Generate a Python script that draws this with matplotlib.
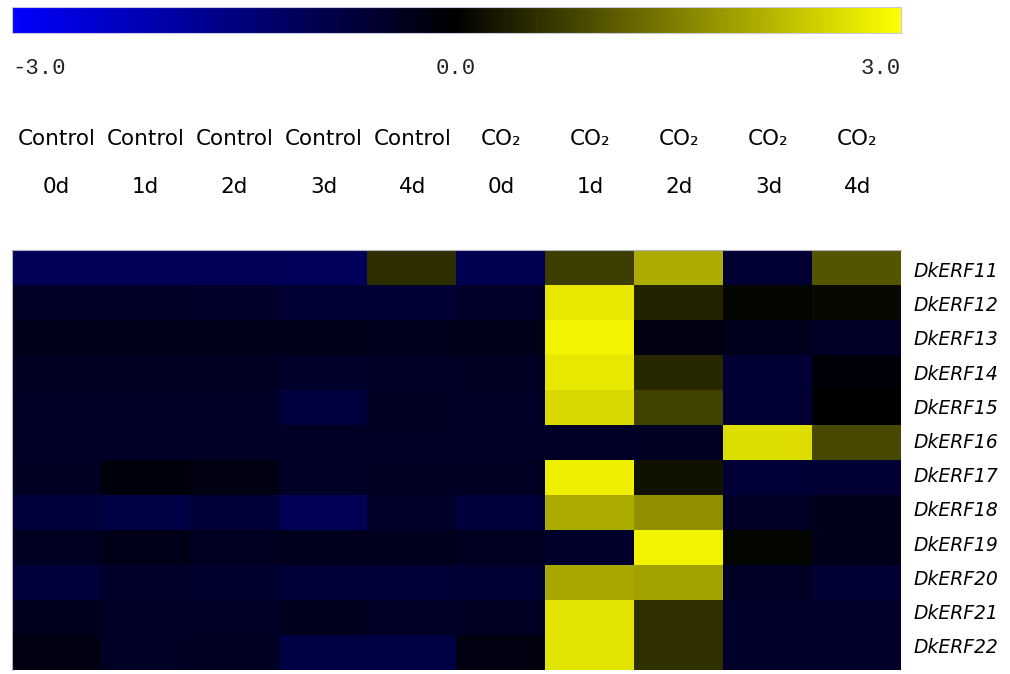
import numpy as np
import matplotlib.pyplot as plt
from matplotlib.colors import LinearSegmentedColormap

# column headers and gene names
treatments = ["Control"] * 5 + ["CO\u2082"] * 5
days = ["0d", "1d", "2d", "3d", "4d", "0d", "1d", "2d", "3d", "4d"]
genes = ["DkERF11", "DkERF12", "DkERF13", "DkERF14", "DkERF15", "DkERF16",
         "DkERF17", "DkERF18", "DkERF19", "DkERF20", "DkERF21", "DkERF22"]

# expression values (log scale, -3..3), one list per gene
erf11 = [-1.0, -1.0, -1.0, -1.05, 0.53, -0.95, 0.72, 2.0, -0.6, 1.0]
erf12 = [-0.45, -0.45, -0.5, -0.6, -0.6, -0.5, 2.7, 0.4, 0.05, 0.1]
erf13 = [-0.3, -0.3, -0.3, -0.3, -0.35, -0.3, 2.85, -0.2, -0.35, -0.45]
erf14 = [-0.4, -0.4, -0.4, -0.5, -0.45, -0.4, 2.7, 0.45, -0.6, -0.1]
erf15 = [-0.45, -0.45, -0.45, -0.75, -0.4, -0.45, 2.55, 0.75, -0.6, 0.0]
erf16 = [-0.45, -0.45, -0.45, -0.45, -0.45, -0.45, -0.45, -0.4, 2.6, 0.85]
erf17 = [-0.4, -0.15, -0.2, -0.45, -0.4, -0.4, 2.8, 0.2, -0.65, -0.6]
erf18 = [-0.7, -0.8, -0.65, -1.0, -0.5, -0.7, 2.0, 1.7, -0.45, -0.3]
erf19 = [-0.4, -0.3, -0.4, -0.35, -0.35, -0.4, -0.5, 2.85, 0.05, -0.3]
erf20 = [-0.7, -0.5, -0.55, -0.65, -0.65, -0.6, 1.95, 1.9, -0.45, -0.6]
erf21 = [-0.35, -0.45, -0.45, -0.35, -0.45, -0.4, 2.65, 0.55, -0.5, -0.5]
erf22 = [-0.2, -0.45, -0.4, -0.8, -0.8, -0.2, 2.65, 0.55, -0.5, -0.5]

data = np.array([erf11, erf12, erf13, erf14, erf15, erf16,
                 erf17, erf18, erf19, erf20, erf21, erf22])

cmap = LinearSegmentedColormap.from_list("byk", ["#0000ff", "#000000", "#ffff00"])

W, H = 1010, 674
fig = plt.figure(figsize=(W / 100, H / 100), dpi=100)

# heatmap
ax = fig.add_axes([12 / W, 4 / H, 889 / W, 420 / H])
im = ax.imshow(data, cmap=cmap, vmin=-3, vmax=3, aspect="auto", interpolation="nearest")
ax.set_xticks([])
ax.set_yticks([])
for s in ax.spines.values():
    s.set_color("#b0b0c0")
    s.set_linewidth(0.8)
ax.spines["right"].set_visible(False)
ax.spines["bottom"].set_visible(False)

# colour scale at the top
cax = fig.add_axes([12 / W, 1 - 33 / H, 889 / W, 26 / H])
cb = fig.colorbar(im, cax=cax, orientation="horizontal")
cb.set_ticks([])
cb.outline.set_edgecolor("#c8c8e0")
cb.outline.set_linewidth(0.8)

mono = "Liberation Mono"
fig.text(12 / W, 1 - 68 / H, "-3.0", ha="left", va="center", fontsize=16, family=mono, color="#222222")
fig.text(456 / W, 1 - 68 / H, "0.0", ha="center", va="center", fontsize=16, family=mono, color="#222222")
fig.text(901 / W, 1 - 68 / H, "3.0", ha="right", va="center", fontsize=16, family=mono, color="#222222")

# column labels
for i in range(len(days)):
    xc = (12 + 89 * (i + 0.5)) / W
    fig.text(xc, 1 - 139 / H, treatments[i], ha="center", va="center", fontsize=15.5, color="black")
    fig.text(xc, 1 - 187 / H, days[i], ha="center", va="center", fontsize=15.5, color="black")

# row labels
for j, g in enumerate(genes):
    yc = 271.5 + 34.2 * j
    fig.text(913 / W, 1 - yc / H, g, ha="left", va="center", fontsize=13.5, style="italic", color="black")

fig.savefig("out.png", dpi=100)
